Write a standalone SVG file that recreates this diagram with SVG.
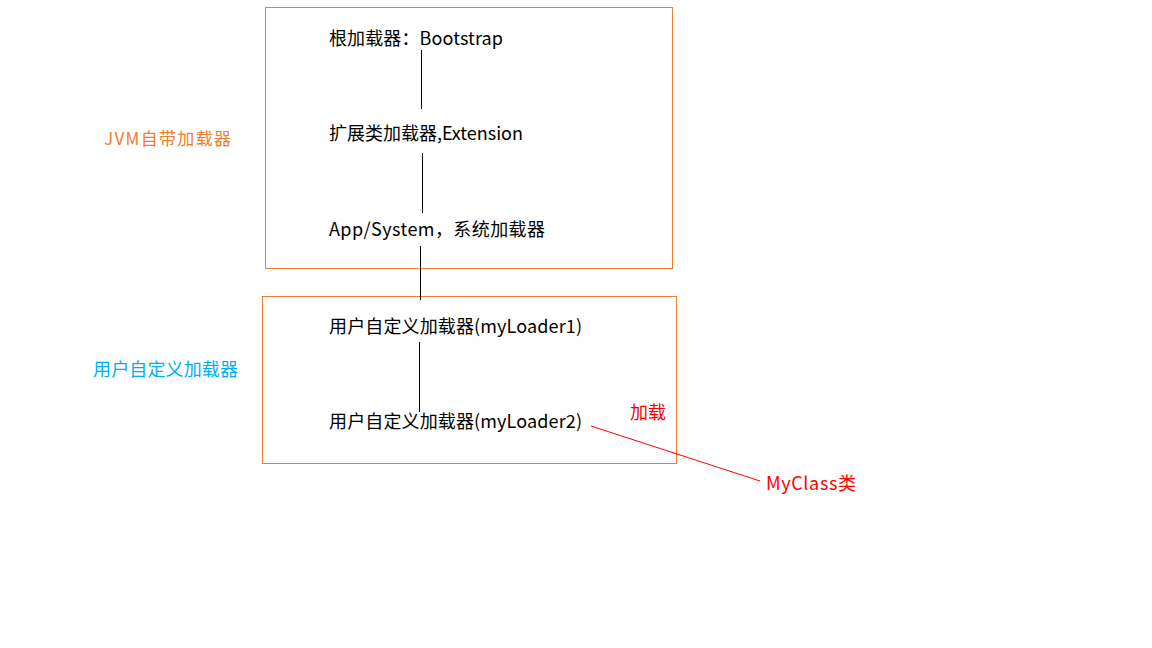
<svg xmlns="http://www.w3.org/2000/svg" width="1152" height="648" viewBox="0 0 1152 648">
<style>
text{font-family:"Noto Sans CJK SC","Noto Sans",sans-serif;font-size:18px;fill:#000}
.box{fill:none;stroke:#ED7D31;stroke-width:1}
.ln{stroke:#000;stroke-width:1}
.red{fill:#FF0000}
</style>
<rect width="1152" height="648" fill="#fff"/>
<g id="jvm-box"><rect class="box" x="265.5" y="7.5" width="407" height="261"/></g>
<g id="user-box"><rect class="box" x="262.5" y="296.5" width="414" height="167"/></g>
<g id="jvm-label"><text x="104" y="145" textLength="127" style="fill:#ED7D31;font-size:17px">JVM自带加载器</text></g>
<g id="user-label"><text x="93" y="376" textLength="145" style="fill:#00B0F0">用户自定义加载器</text></g>
<g id="bootstrap"><text x="329" y="45" textLength="174">根加载器：Bootstrap</text></g>
<g id="extension"><text x="329" y="140" textLength="194">扩展类加载器,Extension</text></g>
<g id="app"><text x="329" y="236" textLength="216">App/System，系统加载器</text></g>
<g id="loader1"><text x="329" y="333" textLength="253">用户自定义加载器(myLoader1)</text></g>
<g id="loader2"><text x="329" y="428" textLength="253">用户自定义加载器(myLoader2)</text></g>
<g id="load-label"><text class="red" x="630" y="419">加载</text></g>
<g id="myclass"><text class="red" x="766" y="490" textLength="90">MyClass类</text></g>
<g id="connectors">
<line class="ln" x1="421.5" y1="50" x2="421.5" y2="109"/>
<line class="ln" x1="422.5" y1="153" x2="422.5" y2="213"/>
<line class="ln" x1="420.5" y1="246" x2="420.5" y2="300"/>
<line class="ln" x1="419.5" y1="342" x2="419.5" y2="412"/>
<line x1="591" y1="426" x2="760" y2="481" stroke="#FF0000" stroke-width="1"/>
</g>
</svg>
